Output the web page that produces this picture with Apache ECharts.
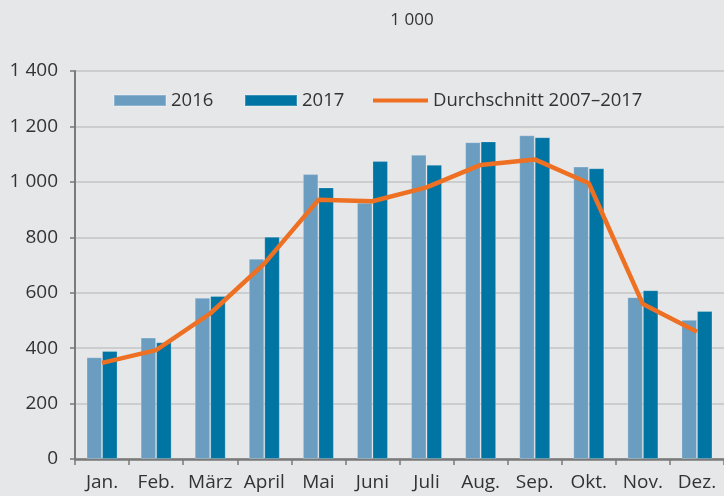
<!DOCTYPE html>
<html>
<head>
<meta charset="utf-8">
<script src="https://cdn.jsdelivr.net/npm/echarts@6/dist/echarts.min.js"></script>
<style>
  html, body { margin: 0; padding: 0; background: #e6e7e9; }
  #chart { width: 724px; height: 496px; }
</style>
</head>
<body>
<div id="chart"></div>
<script>
// Monthly values, 2016 vs 2017, with the 2007–2017 average
const months = ['Jan.', 'Feb.', 'März', 'April', 'Mai', 'Juni', 'Juli', 'Aug.', 'Sep.', 'Okt.', 'Nov.', 'Dez.'];
const values2016 = [367, 438, 582, 723, 1028, 925, 1098, 1143, 1168, 1055, 584, 502];
const values2017 = [390, 421, 588, 802, 980, 1075, 1062, 1146, 1161, 1049, 609, 534];
const average = [347, 393, 525, 705, 935, 930, 980, 1061, 1081, 995, 559, 459];
const yTickLabels = ['0', '200', '400', '600', '800', '1 000', '1 200', '1 400'];
const seriesNames = ['2016', '2017', 'Durchschnitt 2007–2017'];
const unitTitle = '1 000';

const FONT = '"Open Sans", "Noto Sans", sans-serif';
const TEXT = '#333333';
const AXIS = '#7a7a7a';
const C2016 = '#6b9dc1';
const C2017 = '#0074a2';
const CAVG = '#ee7023';

const chart = echarts.init(document.getElementById('chart'), null, { renderer: 'canvas' });

const legendBase = {
  top: 91,
  padding: 0,
  itemHeight: 11,
  itemWidth: 52,
  icon: 'rect',
  textStyle: { fontFamily: FONT, fontSize: 18.5, color: TEXT },
  selectedMode: false
};

chart.setOption({
  backgroundColor: '#e6e7e9',
  animation: false,
  textStyle: { fontFamily: FONT },
  title: {
    text: unitTitle,
    left: 407,
    top: 7,
    textAlign: 'center',
    textStyle: { fontFamily: FONT, fontSize: 17, fontWeight: 'normal', color: TEXT }
  },
  legend: [
    Object.assign({}, legendBase, { left: 113, data: [seriesNames[0]] }),
    Object.assign({}, legendBase, { left: 244, data: [seriesNames[1]] }),
    Object.assign({}, legendBase, { left: 373, itemWidth: 55, itemHeight: 4, data: [seriesNames[2]] })
  ],
  grid: { left: 75, right: -6, top: 71, bottom: 37, containLabel: false },
  xAxis: {
    type: 'category',
    data: months,
    axisLine: { show: true, lineStyle: { color: AXIS, width: 2.5 } },
    axisTick: { show: true, alignWithLabel: false, length: 6, lineStyle: { color: AXIS, width: 1.5 } },
    axisLabel: { margin: 14, fontFamily: FONT, fontSize: 19, color: TEXT, interval: 0 },
    splitLine: { show: false }
  },
  yAxis: {
    type: 'value',
    min: 0,
    max: 1400,
    interval: 200,
    axisLine: { show: true, lineStyle: { color: AXIS, width: 2 } },
    axisTick: { show: true, length: 5, lineStyle: { color: AXIS, width: 1.5 } },
    axisLabel: {
      margin: 17,
      fontFamily: FONT,
      fontSize: 19,
      color: TEXT,
      formatter: v => yTickLabels[Math.round(v / 200)]
    },
    splitLine: { show: true, lineStyle: { color: '#c3c4c6', width: 1.5 } }
  },
  series: [
    {
      name: seriesNames[0],
      type: 'bar',
      data: values2016,
      barWidth: 15.5,
      barGap: '0%',
      itemStyle: { color: C2016, borderColor: 'rgba(255,255,255,0.22)', borderWidth: 1 }
    },
    {
      name: seriesNames[1],
      type: 'bar',
      data: values2017,
      barWidth: 15.5,
      barGap: '0%',
      itemStyle: { color: C2017, borderColor: 'rgba(255,255,255,0.22)', borderWidth: 1 }
    },
    {
      name: seriesNames[2],
      type: 'line',
      data: average,
      symbol: 'none',
      z: 5,
      lineStyle: { color: CAVG, width: 4.5 },
      itemStyle: { color: CAVG }
    }
  ]
});
</script>
</body>
</html>
